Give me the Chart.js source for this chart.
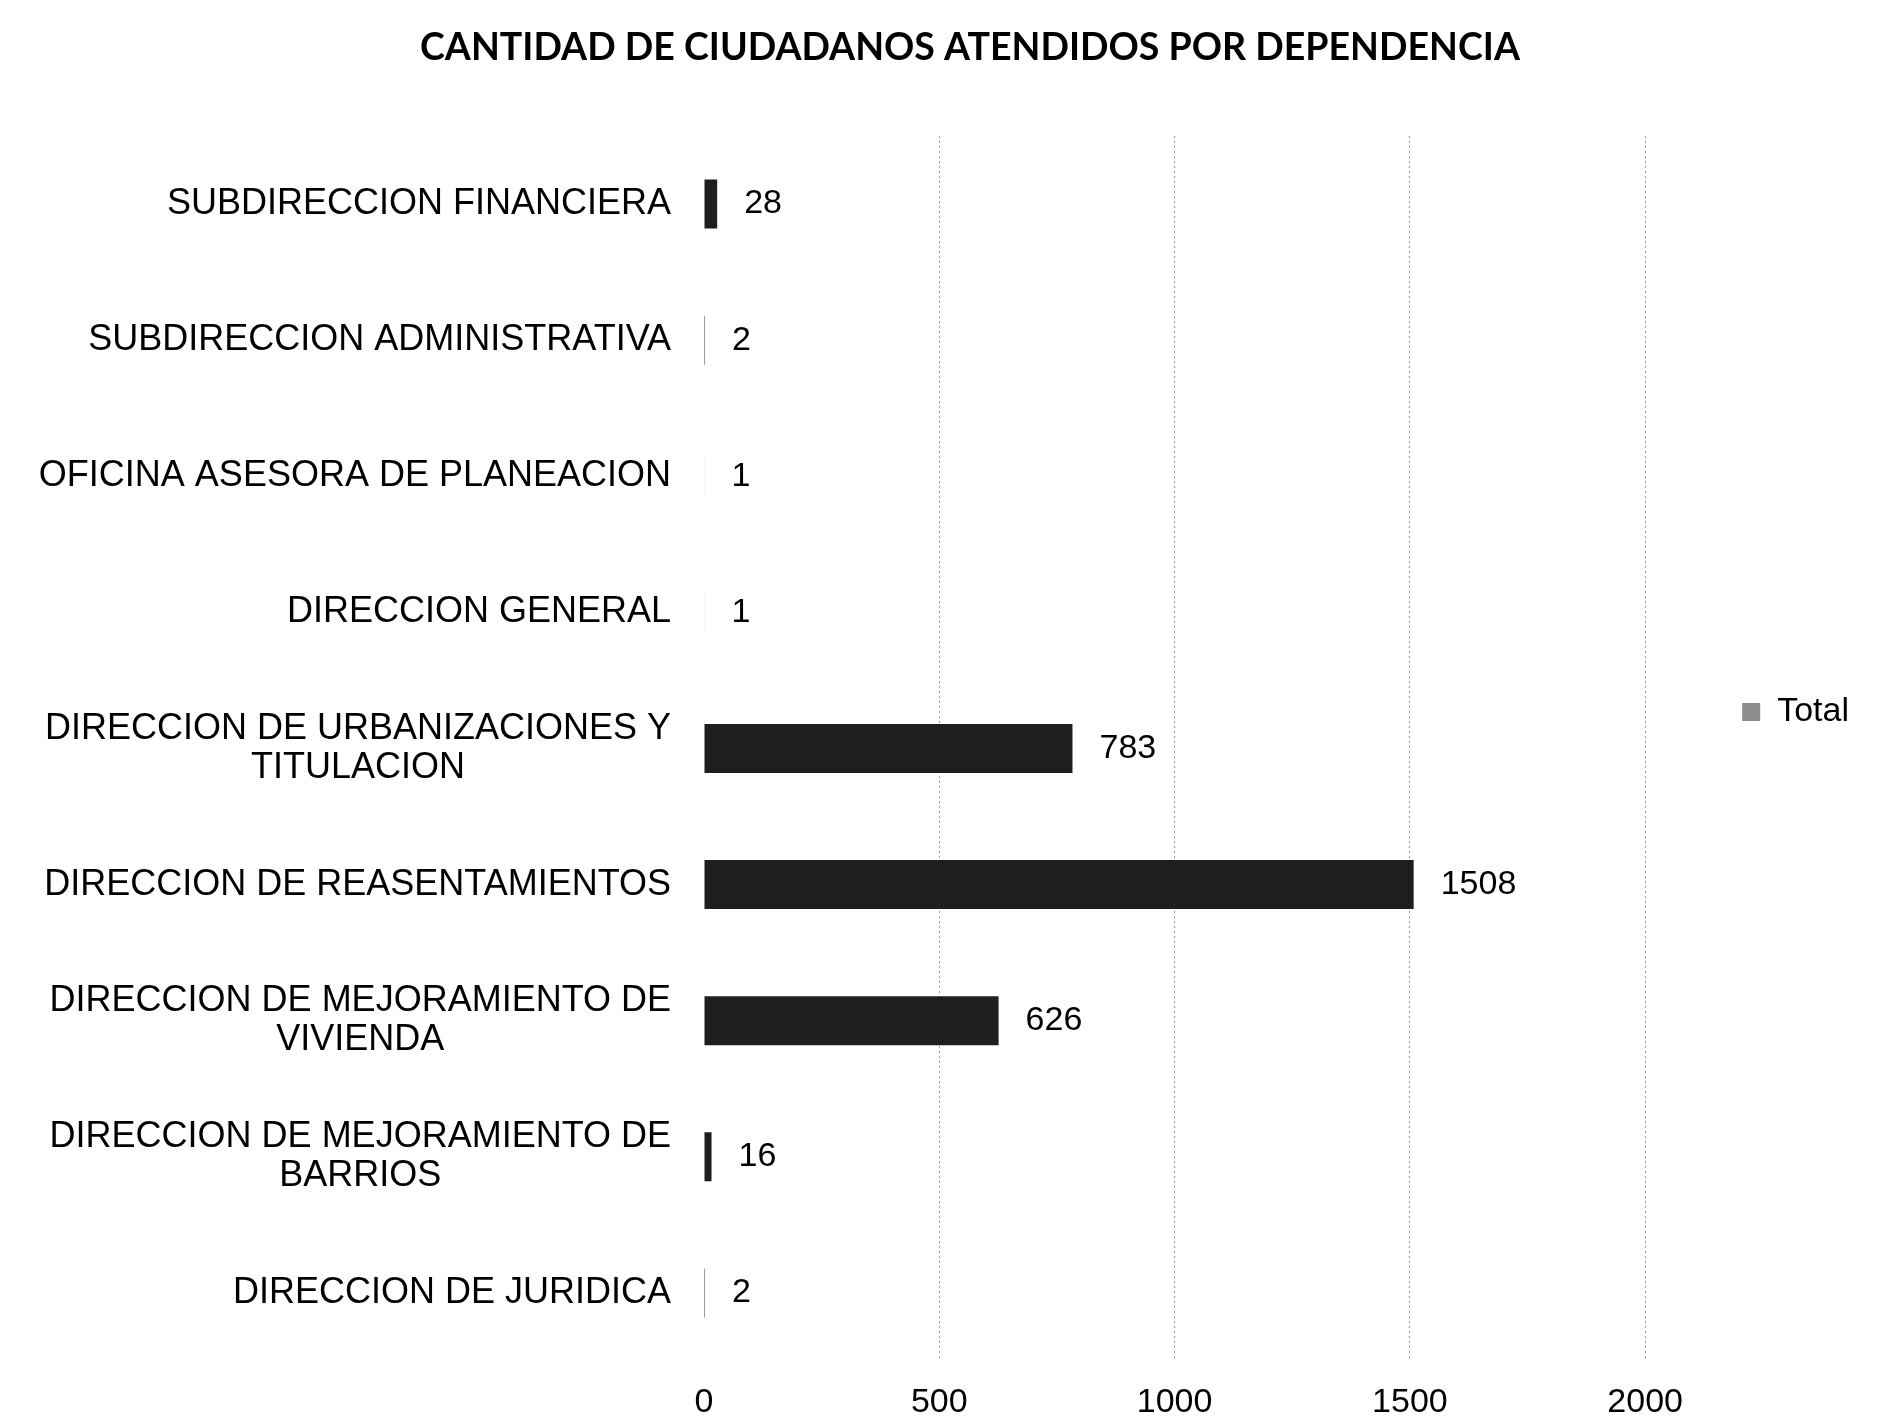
<!DOCTYPE html>
<html><head><meta charset="utf-8">
<script src="https://cdn.jsdelivr.net/npm/chart.js@4"></script>
<style>html,body{margin:0;padding:0;background:#fff;}</style>
</head><body>
<canvas id="c" width="1897" height="1424" style="display:block;width:1897px;height:1424px"></canvas>
<script>
const categories = [
  ['SUBDIRECCION FINANCIERA'],
  ['SUBDIRECCION ADMINISTRATIVA'],
  ['OFICINA ASESORA DE PLANEACION'],
  ['DIRECCION GENERAL'],
  ['DIRECCION DE URBANIZACIONES Y', 'TITULACION'],
  ['DIRECCION DE REASENTAMIENTOS'],
  ['DIRECCION DE MEJORAMIENTO DE', 'VIVIENDA'],
  ['DIRECCION DE MEJORAMIENTO DE', 'BARRIOS'],
  ['DIRECCION DE JURIDICA']
];
const totals = [28, 2, 1, 1, 783, 1508, 626, 16, 2];
const xTickValues = [0, 500, 1000, 1500, 2000];
const seriesName = 'Total';
const chartTitle = 'CANTIDAD DE CIUDADANOS ATENDIDOS POR DEPENDENCIA';

const FONT = '"Liberation Sans", Arial, sans-serif';

const catLabelsPlugin = {
  id: 'catLabels',
  afterDraw(chart) {
    const ys = chart.scales.y;
    const ctx = chart.ctx;
    ctx.save();
    ctx.font = '36px ' + FONT;
    ctx.fillStyle = '#000';
    ctx.textAlign = 'center';
    ctx.textBaseline = 'middle';
    const right = chart.chartArea.left - 33;
    const lh = 39;
    categories.forEach((lines, i) => {
      const y = ys.getPixelForValue(i);
      const w = Math.max(...lines.map(l => ctx.measureText(l).width));
      const cx = right - w / 2;
      lines.forEach((l, j) => {
        ctx.fillText(l, cx, y + (j - (lines.length - 1) / 2) * lh);
      });
    });
    ctx.restore();
  }
};

const valueLabelsPlugin = {
  id: 'valueLabels',
  afterDatasetsDraw(chart) {
    const ctx = chart.ctx;
    const meta = chart.getDatasetMeta(0);
    ctx.save();
    ctx.font = '34px ' + FONT;
    ctx.fillStyle = '#000';
    ctx.textAlign = 'left';
    ctx.textBaseline = 'middle';
    meta.data.forEach((bar, i) => {
      ctx.fillText(String(totals[i]), bar.x + 27, bar.y);
    });
    ctx.restore();
  }
};

new Chart(document.getElementById('c'), {
  type: 'bar',
  data: {
    labels: categories.map(c => c.join(' ')),
    datasets: [{
      label: seriesName,
      data: totals,
      backgroundColor: '#1e1e1e',
      borderWidth: 0,
      barPercentage: 0.36,
      categoryPercentage: 1.0
    }]
  },
  options: {
    indexAxis: 'y',
    responsive: false,
    animation: false,
    devicePixelRatio: 1,
    layout: { padding: { left: 81, right: 38, top: 0, bottom: 0 } },
    scales: {
      x: {
        type: 'linear',
        min: 0,
        max: 2000,
        afterBuildTicks(scale) { scale.ticks = xTickValues.map(v => ({ value: v })); },
        afterFit(scale) { scale.height = 63; },
        ticks: {
          font: { family: FONT, size: 34 },
          color: '#000',
          padding: 21,
          callback: (v) => String(v)
        },
        grid: {
          drawTicks: false,
          lineWidth: 1,
          color: (c) => (c.tick && c.tick.value === 0) ? 'rgba(0,0,0,0)' : 'rgba(0,0,0,0.4)'
        },
        border: { display: false, dash: [2, 3] }
      },
      y: {
        type: 'category',
        ticks: { display: false },
        grid: { display: false, drawTicks: false },
        border: { display: false },
        afterFit(scale) { scale.width = 623; }
      }
    },
    plugins: {
      title: {
        display: true,
        text: chartTitle,
        color: '#000',
        font: { family: 'Lato', weight: 'bold', size: 37.5 },
        padding: { top: 25, bottom: 66 }
      },
      legend: {
        display: true,
        position: 'right',
        labels: {
          boxWidth: 18,
          boxHeight: 18,
          padding: 97,
          color: '#000',
          font: { family: FONT, size: 34 },
          generateLabels(chart) {
            const items = Chart.defaults.plugins.legend.labels.generateLabels(chart);
            items.forEach(it => { it.fillStyle = '#8c8c8c'; it.strokeStyle = '#8c8c8c'; it.lineWidth = 0; });
            return items;
          }
        }
      },
      tooltip: { enabled: false }
    }
  },
  plugins: [catLabelsPlugin, valueLabelsPlugin]
});
</script>
</body></html>
